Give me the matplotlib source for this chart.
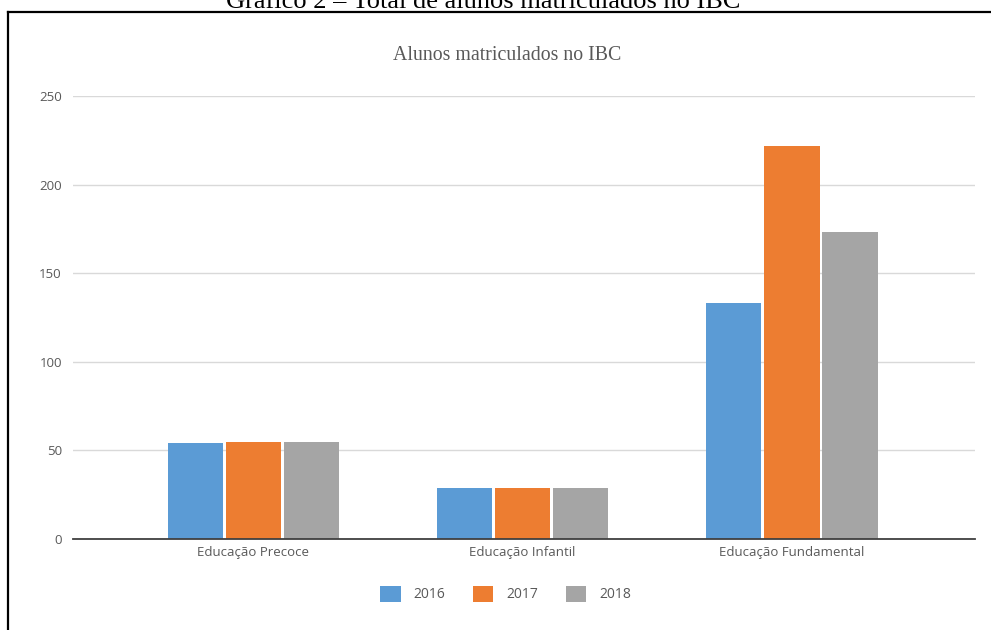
import matplotlib
matplotlib.use("Agg")
import matplotlib.pyplot as plt
from matplotlib.lines import Line2D
import numpy as np

categories = ["Educação Precoce", "Educação Infantil", "Educação Fundamental"]
years = ["2016", "2017", "2018"]
alunos_2016 = [54, 29, 133]
alunos_2017 = [55, 29, 222]
alunos_2018 = [55, 29, 173]
y_ticks = [0, 50, 100, 150, 200, 250]

series = [alunos_2016, alunos_2017, alunos_2018]
colors = ["#5B9BD5", "#ED7D31", "#A5A5A5"]

W, H = 991, 630
fig = plt.figure(figsize=(W / 100, H / 100), dpi=100)
fig.patch.set_facecolor("white")

# caption above the framed chart (partly clipped by the page edge)
fig.text(483 / W, 1 - 8 / H, "Gráfico 2 – Total de alunos matriculados no IBC",
         family="Liberation Serif", fontsize=19, color="black",
         ha="center", va="baseline")

# frame around the chart
fig.add_artist(Line2D([8 / W, 8 / W], [0, 1 - 12 / H], transform=fig.transFigure,
                      color="black", lw=1.6, solid_capstyle="projecting"))
fig.add_artist(Line2D([8 / W, 1], [1 - 12 / H, 1 - 12 / H], transform=fig.transFigure,
                      color="black", lw=1.6, solid_capstyle="projecting"))

ax = fig.add_axes([73 / W, 1 - 539 / H, (975 - 73) / W, (539 - 96) / H])

x = np.arange(len(categories))
step = 0.2156
width = 0.205
for i, (vals, col, yr) in enumerate(zip(series, colors, years)):
    ax.bar(x + (i - 1) * step, vals, width=width, color=col, label=yr, zorder=3)

ax.set_xlim(-0.67, 2.68)
ax.set_ylim(0, 250)
ax.set_yticks(y_ticks)
ax.set_xticks(x)
ax.set_xticklabels(categories)

for lab in ax.get_xticklabels() + ax.get_yticklabels():
    lab.set_fontfamily("Open Sans")
    lab.set_fontsize(9.5)
    lab.set_color("#595959")

ax.tick_params(axis="both", length=0)
ax.tick_params(axis="y", pad=8)
ax.tick_params(axis="x", pad=5)
ax.grid(axis="y", color="#D9D9D9", lw=1, zorder=0)
for s in ["top", "right", "left"]:
    ax.spines[s].set_visible(False)
ax.spines["bottom"].set_color("#404040")
ax.spines["bottom"].set_linewidth(1.3)
ax.spines["bottom"].set_zorder(4)

ax.set_title("Alunos matriculados no IBC", family="Liberation Serif",
             fontsize=14.3, color="#595959", pad=0,
             x=(507 - 73) / (975 - 73), y=(539 - 56) / (539 - 96),
             va="center")

leg = ax.legend(loc="center", bbox_to_anchor=(506 / W, 1 - 594 / H),
                bbox_transform=fig.transFigure, ncol=3, frameon=False,
                prop=dict(family="Open Sans", size=10),
                handlelength=1.45, handleheight=1.45, handletextpad=0.95,
                columnspacing=2.0)
for t in leg.get_texts():
    t.set_color("#595959")

fig.savefig("out.png", dpi=100, facecolor="white")
